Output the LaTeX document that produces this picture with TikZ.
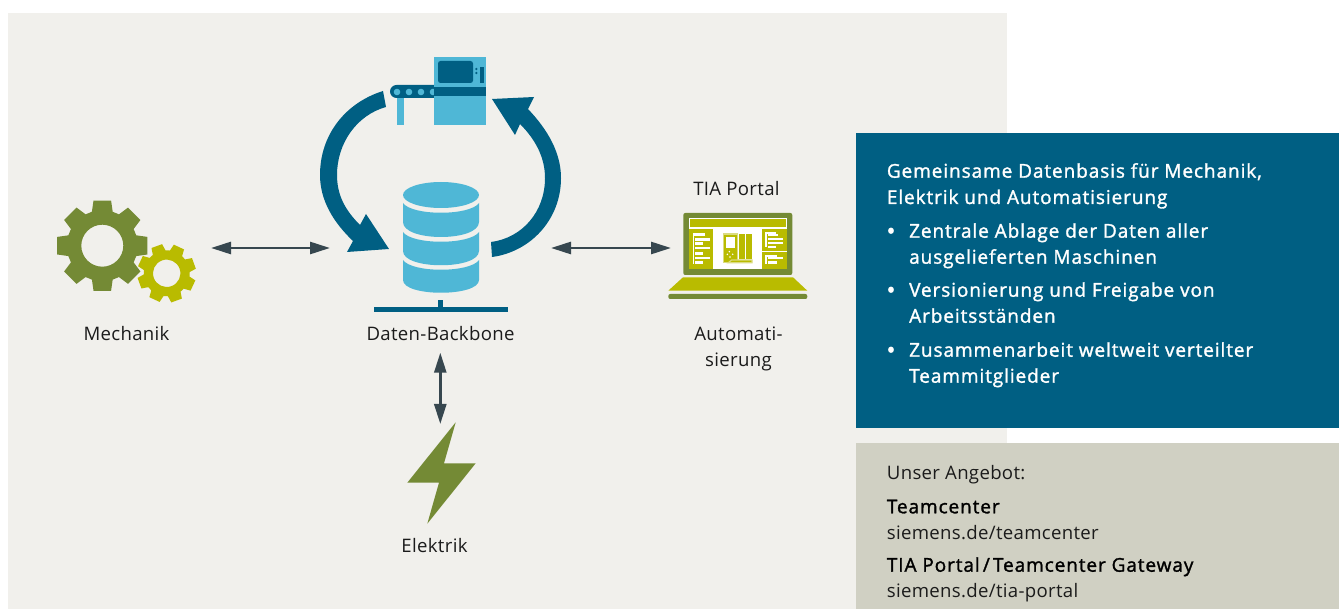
\documentclass[tikz,border=0pt]{standalone}
\usepackage{fontspec}
\setmainfont[LetterSpace=1.7]{Open Sans}
\newfontfamily\semi[FakeBold=1.5,LetterSpace=4.8]{Open Sans}
\usetikzlibrary{arrows.meta}
\definecolor{pagebg}{HTML}{F1F0EC}
\definecolor{petrol}{HTML}{005F83}
\definecolor{sand}{HTML}{D0D0C3}
\definecolor{sky}{HTML}{4FB7D6}
\definecolor{olive}{HTML}{748A35}
\definecolor{lime}{HTML}{B9BB00}
\definecolor{limepale}{HTML}{DADB80}
\definecolor{slate}{HTML}{37474F}
\definecolor{ink}{HTML}{1B1B1B}
\tikzset{
  lbl/.style={font=\fontsize{18.6}{20}\selectfont,text=ink,anchor=base,inner sep=0pt},
  bluetxt/.style={font=\fontsize{19}{20}\semi,text=white,anchor=base west,inner sep=0pt},
  bullet/.style={font=\fontsize{24}{24}\semi,text=white,anchor=base,inner sep=0pt},
  sandtxt/.style={font=\fontsize{18.6}{20}\selectfont,text=ink,anchor=base west,inner sep=0pt},
  sandbold/.style={font=\fontsize{19}{20}\semi,text=black,anchor=base west,inner sep=0pt},
  link/.style={draw=slate,line width=2.6pt,{Stealth[length=20pt,width=12pt,inset=0pt]}-{Stealth[length=20pt,width=12pt,inset=0pt]}},
}
% gear: cx cy rotation tip-radius root-radius hole-radius colour
\newcommand{\gearshape}[7]{%
  \begin{scope}[shift={(#1,#2)},rotate=#3]
    \fill[#7,even odd rule]
      (-11:#4) -- (11:#4) -- (17:#5) -- (28:#5)
      \foreach \t in {45,90,135,180,225,270,315} {
        -- ({\t-11}:#4) -- ({\t+11}:#4) -- ({\t+17}:#5) -- ({\t+28}:#5)
      } -- cycle (0,0) circle [radius=#6];
  \end{scope}}
\newcommand{\wbar}[4]{\fill[white] (#1,#2) rectangle (#3,#4);}
\begin{document}
\begin{tikzpicture}[x=1pt,y=-1pt]
\useasboundingbox (0,0) rectangle (1339,609);
\fill[white] (0,0) rectangle (1339,609);
\fill[pagebg] (8,13) rectangle (1007,609);
\fill[petrol] (856,133) rectangle (1339,428);
\fill[sand] (856,443) rectangle (1339,609);

% gears
\gearshape{102.3}{245.7}{0}{46}{35.5}{21}{olive}
\gearshape{166.7}{273.3}{20}{29.5}{23}{13.7}{lime}

% cycle arrows
\fill[petrol] (383,91) .. controls (345,103) and (320,135) .. (320,175)
  .. controls (320,200) and (333,222) .. (353,241)
  -- (347,252) -- (389,249) -- (366,214) -- (360,225)
  .. controls (345,210) and (337,195) .. (337,175)
  .. controls (337,143) and (357,115) .. (386,107) -- cycle;
\fill[petrol] (492,257) .. controls (530,252) and (561,220) .. (561,178)
  .. controls (561,153) and (548,130) .. (528,109)
  -- (534,97) -- (492,99) -- (515,135) -- (520,124)
  .. controls (536,140) and (545,158) .. (545,178)
  .. controls (545,212) and (522,238) .. (491,242) -- cycle;

% machine
\fill[sky] (397,98) rectangle (404,125);
\fill[petrol,rounded corners=6.5pt] (390,85) rectangle (445,98);
\foreach \cx in {397,409,421,433} \fill[sky] (\cx,92) circle [radius=3.3];
\fill[sky] (434,57) rectangle (486,125);
\fill[petrol] (434,87) rectangle (486,96);
\fill[petrol,rounded corners=2.5pt] (438,61) rectangle (473,83);
\fill[petrol] (480,67) rectangle (484,83);
\fill[petrol] (476.3,69) circle [radius=1.3] (476.3,73) circle [radius=1.3];

% database
\fill[sky] (441,195) ellipse [x radius=38, y radius=13];
\fill[sky] (403,203) .. controls (412,216) and (470,216) .. (479,203) -- (479,222)
  .. controls (479,242) and (403,242) .. (403,222) -- cycle;
\fill[sky] (403,232) .. controls (412,245) and (470,245) .. (479,232) -- (479,251)
  .. controls (479,270) and (403,270) .. (403,251) -- cycle;
\fill[sky] (403,260) .. controls (412,273) and (470,273) .. (479,260) -- (479,280)
  .. controls (479,297) and (403,297) .. (403,280) -- cycle;
\fill[petrol] (438,300) rectangle (443,307);
\fill[petrol] (374,307) rectangle (508,312);

% laptop
\fill[olive,rounded corners=2pt] (683.3,213) rectangle (792.3,275);
\fill[white] (689,217.7) rectangle (786.7,269.3);
\fill[lime] (689.7,219) rectangle (786,227.3);
\fill[lime] (689,229.3) rectangle (713,269.3);
\fill[lime] (762,229.3) rectangle (786.7,250.7);
\fill[lime] (762,252) rectangle (786.7,269.3);
\fill[lime] (683,277.3) -- (793,277.3) -- (807.3,290.7) -- (668.3,290.7) -- cycle;
\fill[olive,rounded corners=2pt] (668.3,294) rectangle (807.3,299);
\begin{scope}[shift={(685,210)},x=.33333pt,y=-.33333pt]
  % left panel
  \wbar{23}{70}{27}{161}\wbar{27}{70}{60}{77}\wbar{30}{85}{75}{92}\wbar{30}{97}{53}{104}
  \wbar{30}{111}{75}{118}\wbar{30}{127}{53}{134}\wbar{30}{142}{75}{148}\wbar{30}{154}{53}{161}
  % device
  \fill[lime,draw=limepale,line width=1.2pt] (115,72) rectangle (158,158);
  \wbar{123}{80}{150}{115}
  \foreach \dx/\dy in {133/125,127/133,143/133,135/141} \fill[white] (\dx,\dy) circle [radius=2.5];
  \fill[lime] (162,72) rectangle (180,148);
  \fill[lime] (183,72) rectangle (201,148);
  \fill[lime,draw=limepale,line width=1.2pt] (130,158) -- (140,150) -- (201,150) -- (201,158) -- cycle;
  % right panels
  \wbar{241}{66}{245}{112}\wbar{245}{66}{272}{71}\wbar{248}{72}{278}{79}\wbar{248}{84}{294}{90}
  \wbar{248}{97}{294}{103}\wbar{248}{108}{272}{113}
  \wbar{241}{135}{245}{162}\wbar{245}{135}{276}{140}\wbar{248}{142}{294}{148}\wbar{248}{153}{276}{161}
\end{scope}

% bolt
\fill[olive] (455.7,422.3) -- (407.3,482.7) -- (439,482.7) -- (427.3,523.7) -- (475.7,463.3) -- (444,463.3) -- cycle;

% labels
\node[lbl] (mechlabel) at (126.5,340.7) {Mechanik};
\node[lbl] (dblabel) at (440.5,340.7) {Daten-Backbone};
\node[lbl] (tialabel) at (736.5,195.7) {TIA Portal};
\node[lbl] (autolabel1) at (738.5,340.7) {Automati-};
\node[lbl] (autolabel2) at (738.5,366.7) {sierung};
\node[lbl] (elabel) at (434.5,552.7) {Elektrik};

% connectors
\coordinate (mechport) at (211,248);
\coordinate (dbwest) at (330,248);
\coordinate (dbeast) at (551,248);
\coordinate (tiaport) at (671,248);
\coordinate (dbsouth) at (440.3,352.7);
\coordinate (boltport) at (440.3,424);
\draw[link] (mechport) -- (dbwest);
\draw[link] (dbeast) -- (tiaport);
\draw[link] (dbsouth) -- (boltport);

% blue panel text
\node[bluetxt] (b1) at (886.7,177.7) {Gemeinsame Datenbasis für Mechanik,};
\node[bluetxt] (b2) at (886.7,204) {Elektrik und Automatisierung};
\node[bullet] (d1) at (891,239.5) {•};
\node[bluetxt] (b3) at (909,237.7) {Zentrale Ablage der Daten aller};
\node[bluetxt] (b4) at (909,263.7) {ausgelieferten Maschinen};
\node[bullet] (d2) at (891,298.5) {•};
\node[bluetxt] (b5) at (909,296.7) {Versionierung und Freigabe von};
\node[bluetxt] (b6) at (909,322.7) {Arbeitsständen};
\node[bullet] (d3) at (891,358.5) {•};
\node[bluetxt] (b7) at (909,356.7) {Zusammenarbeit weltweit verteilter};
\node[bluetxt] (b8) at (909,382.7) {Teammitglieder};

% sand panel text
\node[sandtxt] (s1) at (886.7,479.3) {Unser Angebot:};
\node[sandbold] (s2) at (886.7,513.3) {Teamcenter};
\node[sandtxt] (s3) at (886.7,539) {siemens.de/teamcenter};
\node[sandbold] (s4) at (886.7,571.7) {TIA Portal\,/\,Teamcenter Gateway};
\node[sandtxt] (s5) at (886.7,597.7) {siemens.de/tia-portal};
\end{tikzpicture}
\end{document}
